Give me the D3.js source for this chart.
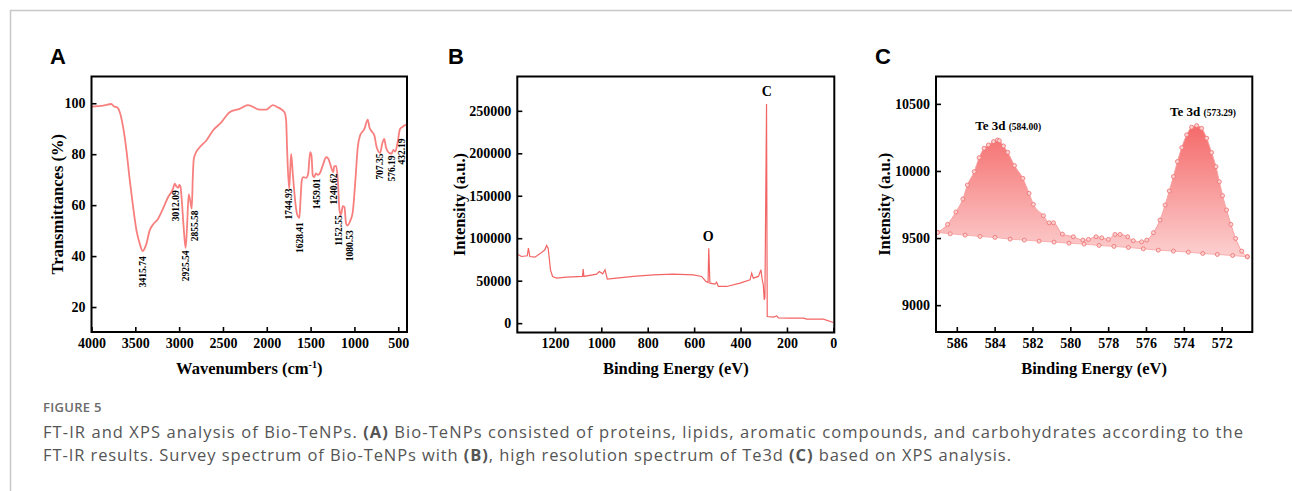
<!DOCTYPE html>
<html><head><meta charset="utf-8">
<script src="https://cdn.jsdelivr.net/npm/d3@7"></script>
<style>body{margin:0;background:#fff} svg{display:block}</style>
</head><body><svg id="c" width="1292" height="491"></svg>
<script>
// ---------- Panel A: FT-IR ----------
const irWave = [4000,3867,3772,3746,3708,3677,3639,3601,3563,3525,3487,3449,3416,3374,3336,3298,3241,3184,3127,3070,3051,3030,3012,2998,2985,2970,2950,2926,2910,2891,2875,2856,2845,2835,2823,2766,2690,2614,2519,2424,2310,2215,2083,2007,1931,1874,1798,1779,1768,1745,1735,1722,1703,1680,1655,1628,1615,1600,1582,1551,1528,1505,1490,1475,1459,1440,1420,1399,1361,1323,1300,1277,1253,1241,1231,1208,1189,1170,1153,1133,1114,1095,1081,1046,1019,989,962,936,886,848,829,810,772,746,707,680,660,640,600,576,556,533,507,480,450,412];
const irTrans = [98.7,99.1,99.7,98.8,98.4,96.5,90.6,81.4,69.7,59.2,50.1,44.8,42.0,44.8,50.1,52.4,54.6,58.6,63.1,66.4,68.4,67.3,66.8,67.9,67.3,62,52,43.2,51.4,64.2,62,58.6,70,77.5,79.5,82.7,85.4,89.3,92.5,96.5,97.8,99.3,97.5,97.5,99.3,98.4,96.5,93.2,82,66.5,72,80.1,72.3,63,56.5,55,62,70,71.0,70.7,72.3,80.8,79.5,71.6,71.0,72.5,71.9,72.3,75.6,78.8,78.4,76.2,73.6,73.0,75.2,75.4,69.7,57.9,56.2,59.6,59.2,52.7,52.0,54.0,57.3,69.7,82.7,87.3,89.9,93.6,90.6,89.3,87.3,82.7,80.5,84.5,86,82.7,80.4,80.2,81.7,81.0,84.7,89.9,90.8,91.6];
const irPeakLabels = ["3415.74","3012.09","2925.54","2855.58","1744.93","1628.41","1459.01","1240.62","1152.55","1080.53","707.35","576.19","432.19"];
const irPeakLabelWave = [3415.74,3040,2925.54,2819,1744.93,1628.41,1430,1240.62,1176,1050,707.35,576.19,460];
const irPeakTop = [39.9,65.8,42.2,57.9,66.5,53.3,70.5,72.4,56.0,50.1,80.3,79.5,86.2];
const irXTicks = [4000,3500,3000,2500,2000,1500,1000,500];
const irYTicks = [20,40,60,80,100];

// ---------- Panel B: XPS survey ----------
const surveyEnergy = [1361,1344,1319,1314,1308,1286,1265,1243,1236,1229,1219,1210,1193,1150,1081,1078,1075,1020,1009,994,984,974,934,862,776,690,603,568,549,540,537,532,510,503,496,460,402,359,352,345,323,312,307,302,298,295,288,285,258,244,237,187,129,115,43,0];
const surveyCounts = [81250,78500,79300,88300,78500,77700,81600,86400,91500,88300,62800,55000,53000,54200,55000,63600,55000,57700,60800,58100,62800,51800,53000,55000,56900,57700,56900,55000,49100,47900,88300,47100,45900,48300,43200,43200,47100,51000,58900,53000,55000,62800,52000,45000,27500,30000,257900,7800,7065,8600,6300,5900,5900,4700,4700,800];
const surveyLabels = ["O","C"];
const surveyLabelEnergy = [539,287];
const surveyLabelCounts = [96300,267100];
const surveyXTicks = [1200,1000,800,600,400,200,0];
const surveyYTicks = [0,50000,100000,150000,200000,250000];

// ---------- Panel C: Te 3d ----------
const te3dEnergy = [587.02,586.49,586.05,585.68,585.44,585.08,584.82,584.56,584.33,584.06,583.85,583.75,583.53,583.31,582.95,582.51,582.18,581.95,581.42,581.12,580.89,580.42,579.84,579.34,579.04,578.64,578.34,577.99,577.64,577.37,576.97,576.67,576.23,575.96,575.61,575.26,574.99,574.77,574.55,574.34,574.11,573.85,573.59,573.32,573.06,572.79,572.53,572.30,572.12,571.95,571.74,571.51,571.26,570.94,570.64];
const te3dCounts = [9542,9602,9694,9791,9895,9995,10099,10169,10194,10219,10231,10226,10186,10139,10040,9945,9833,9751,9667,9614,9614,9530,9510,9485,9490,9510,9502,9490,9527,9527,9510,9480,9472,9485,9540,9634,9746,9851,9958,10070,10174,10269,10326,10338,10318,10244,10137,10032,9920,9816,9709,9602,9497,9403,9361];
const te3dBaseEnergy = [587.02,586.35,585.56,584.77,583.98,583.18,582.43,581.65,580.86,580.07,579.27,578.48,577.69,576.93,576.14,575.35,574.55,573.76,573.00,572.23,571.42,570.64];
const te3dBaseCounts = [9542,9532,9522,9512,9505,9492,9485,9477,9470,9462,9455,9445,9438,9430,9420,9410,9403,9395,9385,9378,9370,9361];
const te3dPeakNames = ["Te 3d","Te 3d"];
const te3dPeakValues = ["(584.00)","(573.29)"];
const te3dLabelEnergy = [585.03,574.73];
const te3dLabelCounts = [10306,10410];
const te3dXTicks = [586,584,582,580,578,576,574,572];
const te3dYTicks = [9000,9500,10000,10500];

const SERIF = "'Liberation Serif','Times New Roman',serif";
const SANS = "'Liberation Sans',Arial,sans-serif";
const svg = d3.select("#c");

// page frame
svg.append("line").attr("x1",10).attr("x2",1292).attr("y1",10.5).attr("y2",10.5).attr("stroke","#c8c8c8").attr("stroke-width",1.5);
svg.append("line").attr("x1",10.5).attr("x2",10.5).attr("y1",10).attr("y2",491).attr("stroke","#c8c8c8").attr("stroke-width",1.5);

function panel(o){
  const g = svg.append("g");
  const x = d3.scaleLinear().domain(o.xDomain).range([o.x0,o.x1]);
  const y = d3.scaleLinear().domain(o.yDomain).range([o.y1,o.y0]);
  const xa = g.append("g").attr("transform",`translate(0,${o.y1})`)
    .call(d3.axisBottom(x).tickValues(o.xTicks).tickSizeInner(-5).tickSizeOuter(0).tickPadding(6).tickFormat(d3.format("d")));
  const ya = g.append("g").attr("transform",`translate(${o.x0},0)`)
    .call(d3.axisLeft(y).tickValues(o.yTicks).tickSizeInner(-5).tickSizeOuter(0).tickPadding(6).tickFormat(d3.format("d")));
  [xa,ya].forEach(a=>{
    a.select(".domain").remove();
    a.selectAll(".tick line").attr("stroke","#000").attr("stroke-width",1.6);
    a.selectAll(".tick text").attr("font-family",SERIF).attr("font-weight","bold").attr("font-size",14).attr("fill","#000");
  });
  g.append("text").attr("x",o.letterX).attr("y",64).attr("font-family",SANS).attr("font-weight","bold").attr("font-size",22).text(o.letter);
  const xt = g.append("text").attr("x",(o.x0+o.x1)/2).attr("y",374).attr("text-anchor","middle")
    .attr("font-family",SERIF).attr("font-weight","bold").attr("font-size",16.5);
  o.xTitle(xt);
  g.append("text").attr("transform",`translate(${o.yTitleX},${(o.y0+o.y1)/2}) rotate(-90)`).attr("text-anchor","middle")
    .attr("font-family",SERIF).attr("font-weight","bold").attr("font-size",16.5).text(o.yTitle);
  const clipId = "clip"+o.letter;
  g.append("clipPath").attr("id",clipId).append("rect").attr("x",o.x0).attr("y",o.y0).attr("width",o.x1-o.x0).attr("height",o.y1-o.y0);
  const plot = g.append("g").attr("clip-path",`url(#${clipId})`);
  const over = g.append("g");
  g.append("rect").attr("x",o.x0).attr("y",o.y0).attr("width",o.x1-o.x0).attr("height",o.y1-o.y0)
    .attr("fill","none").attr("stroke","#000").attr("stroke-width",2);
  return {x,y,plot,over,g};
}

// ---------- Panel A ----------
{
  const p = panel({x0:91.5,x1:407,y0:76.5,y1:332,xDomain:[4000,400],yDomain:[10.2,110.5],
    xTicks:irXTicks,yTicks:irYTicks,letter:"A",letterX:50,yTitleX:63,yTitle:"Transmittances (%)",
    xTitle:t=>{t.append("tspan").text("Wavenumbers (cm");t.append("tspan").attr("font-size",10).attr("dy",-6).text("-1");t.append("tspan").attr("dy",6).text(")");}});
  const pts = irWave.map((w,i)=>[w,irTrans[i]]);
  p.plot.append("path").datum(pts).attr("fill","none").attr("stroke","#f7807f").attr("stroke-width",1.8)
    .attr("stroke-linejoin","round")
    .attr("d",d3.line().x(d=>p.x(d[0])).y(d=>p.y(d[1])).curve(d3.curveMonotoneX));
  irPeakLabels.forEach((lab,i)=>{
    p.over.append("text").attr("transform",`translate(${p.x(irPeakLabelWave[i])},${p.y(irPeakTop[i])}) rotate(-90)`)
      .attr("text-anchor","end").attr("dy","0.35em").attr("font-family",SERIF).attr("font-weight","bold")
      .attr("font-size",9.5).text(lab);
  });
}

// ---------- Panel B ----------
{
  const p = panel({x0:517.3,x1:834.3,y0:76.5,y1:332.5,xDomain:[1362,-4],yDomain:[-11000,290400],
    xTicks:surveyXTicks,yTicks:surveyYTicks,letter:"B",letterX:448,yTitleX:465,yTitle:"Intensity (a.u.)",
    xTitle:t=>t.text("Binding Energy (eV)")});
  const pts = surveyEnergy.map((e,i)=>[e,surveyCounts[i]]);
  p.plot.append("path").datum(pts).attr("fill","none").attr("stroke","#f36464").attr("stroke-width",1.2)
    .attr("d",d3.line().x(d=>p.x(d[0])).y(d=>p.y(d[1])));
  surveyLabels.forEach((lab,i)=>{
    p.over.append("text").attr("x",p.x(surveyLabelEnergy[i])).attr("y",p.y(surveyLabelCounts[i]))
      .attr("text-anchor","middle").attr("font-family",SERIF).attr("font-weight","bold").attr("font-size",14).text(lab);
  });
}

// ---------- Panel C ----------
{
  const p = panel({x0:936,x1:1252.3,y0:76.5,y1:332,xDomain:[587.1,570.38],yDomain:[8800,10704],
    xTicks:te3dXTicks,yTicks:te3dYTicks,letter:"C",letterX:875,yTitleX:890,yTitle:"Intensity (a.u.)",
    xTitle:t=>t.text("Binding Energy (eV)")});
  const env = te3dEnergy.map((e,i)=>[e,te3dCounts[i]]);
  const base = te3dBaseEnergy.map((e,i)=>[e,te3dBaseCounts[i]]);
  const defs = svg.append("defs");
  const grad = defs.append("linearGradient").attr("id","teGrad").attr("gradientUnits","userSpaceOnUse")
    .attr("x1",0).attr("x2",0).attr("y1",p.y(10338)).attr("y2",p.y(9361));
  grad.append("stop").attr("offset","0%").attr("stop-color","#f56a6a");
  grad.append("stop").attr("offset","100%").attr("stop-color","#fcd0d0");
  const lineC = d3.line().x(d=>p.x(d[0])).y(d=>p.y(d[1])).curve(d3.curveMonotoneX);
  const lineL = d3.line().x(d=>p.x(d[0])).y(d=>p.y(d[1]));
  const dArea = lineC(env) + lineL(base.slice().reverse()).replace(/^M/,"L") + "Z";
  p.plot.append("path").attr("d",dArea).attr("fill","url(#teGrad)").attr("stroke","none");
  p.plot.append("path").datum(env).attr("d",lineC).attr("fill","none").attr("stroke","#f7a0a0").attr("stroke-width",1);
  p.plot.append("path").datum(base).attr("d",lineL).attr("fill","none").attr("stroke","#f7b0b0").attr("stroke-width",1);
  p.plot.selectAll("circle.e").data(env.concat(base)).enter().append("circle")
    .attr("cx",d=>p.x(d[0])).attr("cy",d=>p.y(d[1])).attr("r",2)
    .attr("fill","#fbd0d0").attr("stroke","#ef6f6f").attr("stroke-width",0.8);
  te3dPeakNames.forEach((n,i)=>{
    const t = p.over.append("text").attr("x",p.x(te3dLabelEnergy[i])).attr("y",p.y(te3dLabelCounts[i]))
      .attr("font-family",SERIF).attr("font-weight","bold").attr("font-size",13);
    t.append("tspan").text(n+" ");
    t.append("tspan").attr("font-size",9.5).text(te3dPeakValues[i]);
  });
}

// ---------- Caption ----------
const CAP = "'Open Sans','Noto Sans',sans-serif";
svg.append("text").attr("x",43).attr("y",412).attr("font-family",CAP).attr("font-weight",600).attr("font-size",13)
  .attr("letter-spacing",0.3).attr("fill","#6b6b6b").text("FIGURE 5");
const cap1 = svg.append("text").attr("x",43).attr("y",438).attr("font-family",CAP).attr("font-size",16.5).attr("fill","#555")
  .attr("textLength",1200).attr("lengthAdjust","spacing");
cap1.append("tspan").text("FT-IR and XPS analysis of Bio-TeNPs. ");
cap1.append("tspan").attr("font-weight",700).text("(A)");
cap1.append("tspan").text(" Bio-TeNPs consisted of proteins, lipids, aromatic compounds, and carbohydrates according to the");
const cap2 = svg.append("text").attr("x",43).attr("y",461).attr("font-family",CAP).attr("font-size",16.5).attr("fill","#555")
  .attr("textLength",968).attr("lengthAdjust","spacing");
cap2.append("tspan").text("FT-IR results. Survey spectrum of Bio-TeNPs with ");
cap2.append("tspan").attr("font-weight",700).text("(B)");
cap2.append("tspan").text(", high resolution spectrum of Te3d ");
cap2.append("tspan").attr("font-weight",700).text("(C)");
cap2.append("tspan").text(" based on XPS analysis.");
</script></body></html>
